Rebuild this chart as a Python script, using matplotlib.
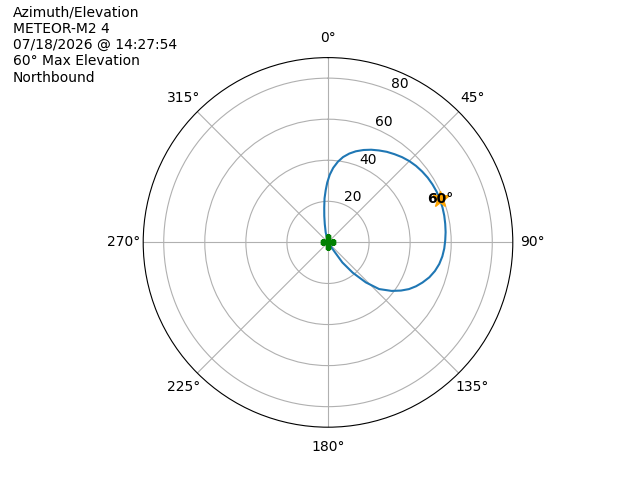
import numpy as np
import matplotlib
matplotlib.use("Agg")
import matplotlib.pyplot as plt

# pass track, south -> north (degrees)
azimuth = [145, 145.1, 144.4, 140.8, 136.6, 132.4, 127.3, 123.4, 120.0, 116.5,
           113.0, 109.0, 105.0, 101.0, 97.0, 93.0, 89.0, 85.0, 81.0, 77.0,
           73.0, 69.0, 65.0, 61.0, 57.0, 53.0, 49.0, 45.0, 41.0, 37.0,
           33.0, 29.0, 25.0, 21.0, 17.0, 13.5, 10.0, 7.0, 4.0, 1.5,
           359.3, 357.5, 355.5, 353.8, 352.0, 350.0, 347.0, 345.0]
elevation = [0, 4.5, 12.0, 19.0, 26.8, 33.7, 39.0, 42.6, 45.5, 47.9,
             50.0, 52.2, 53.9, 55.2, 56.1, 56.7, 57.1, 57.5, 57.8, 58.1,
             58.3, 58.4, 58.4, 58.2, 57.9, 57.4, 56.8, 56.0, 55.0, 53.8,
             52.6, 51.2, 49.8, 48.2, 46.4, 44.5, 42.2, 39.6, 36.4, 33.0,
             29.2, 25.5, 21.5, 17.0, 13.0, 9.0, 5.0, 0]

peak_az = 69.0
peak_el = 58.4
max_el_label = "60°"

info = ["Azimuth/Elevation", "METEOR-M2 4", "07/18/2026 @ 14:27:54",
        "60° Max Elevation", "Northbound"]

theta = np.unwrap(np.radians(azimuth))

fig = plt.figure(figsize=(6.4, 4.8), dpi=100)
ax = fig.add_subplot(111, projection="polar")
ax.set_theta_zero_location("N")
ax.set_theta_direction(-1)

ax.plot(theta, elevation)
ax.plot(theta[0], elevation[0], "P", color="green", markersize=10)
ax.plot(theta[-1], elevation[-1], "P", color="green", markersize=10)
ax.plot(np.radians(peak_az), peak_el, "*", color="orange", markersize=12)
ax.text(np.radians(peak_az), peak_el, max_el_label, fontweight="bold",
        ha="center", va="center")

ax.set_rlim(0, 90)
ax.set_rticks([20, 40, 60, 80])

fig.text(0.02, 0.988, "\n".join(info), ha="left", va="top")

plt.savefig("out.png", dpi=100)
